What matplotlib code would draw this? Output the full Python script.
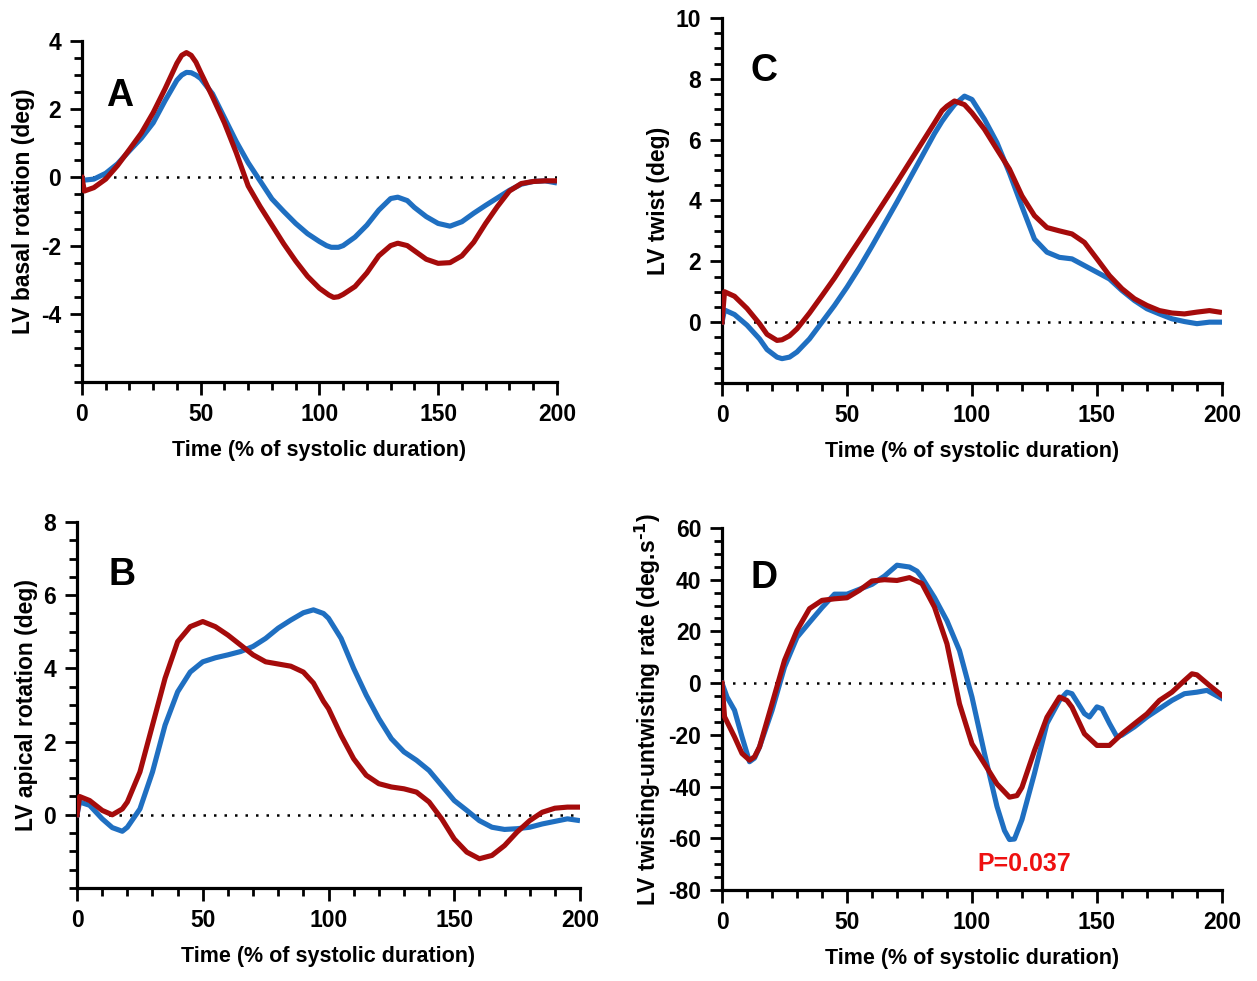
import matplotlib
matplotlib.use("Agg")
import matplotlib.pyplot as plt
from matplotlib.ticker import MultipleLocator

plt.rcParams['font.family'] = ['Liberation Sans', 'DejaVu Sans']
plt.rcParams['font.weight'] = 'bold'
plt.rcParams['axes.unicode_minus'] = False
plt.rcParams['mathtext.default'] = 'bf'

blue = '#1f6fc1'
red = '#a50b0b'

# panel A: LV basal rotation
t_a = [0, 1, 5, 10, 15, 20, 25, 30, 35, 40, 42, 44, 46, 48, 50, 55, 60, 65, 70, 75, 80, 85, 90,
       95, 100, 103, 105, 108, 110, 115, 120, 125, 130, 133, 137, 140, 145, 150, 155, 160, 165,
       170, 175, 180, 185, 190, 195, 199]
blue_a = [-0.08, -0.08, -0.05, 0.12, 0.4, 0.78, 1.15, 1.6, 2.25, 2.85, 3.0, 3.08, 3.07, 3.0, 2.9,
          2.45, 1.75, 1.05, 0.43, -0.1, -0.63, -1.0, -1.35, -1.65, -1.88, -2.0, -2.05, -2.05,
          -2.0, -1.75, -1.4, -0.96, -0.62, -0.58, -0.68, -0.88, -1.15, -1.35, -1.43, -1.3,
          -1.05, -0.82, -0.6, -0.38, -0.2, -0.12, -0.1, -0.15]
t_a_red = [0, 1, 5, 10, 15, 20, 25, 30, 35, 40, 42, 44, 46, 48, 50, 55, 60, 65, 70, 75, 80, 85,
           90, 95, 100, 104, 106, 108, 110, 115, 120, 125, 130, 133, 137, 140, 145, 150, 155,
           160, 165, 170, 175, 180, 185, 190, 195, 199]
red_a = [0.0, -0.4, -0.3, -0.05, 0.35, 0.82, 1.3, 1.9, 2.6, 3.35, 3.58, 3.66, 3.58, 3.38, 3.08,
         2.36, 1.6, 0.72, -0.25, -0.85, -1.4, -1.95, -2.45, -2.9, -3.25, -3.45, -3.52, -3.5,
         -3.43, -3.2, -2.8, -2.3, -2.0, -1.93, -2.0, -2.15, -2.4, -2.52, -2.5, -2.3, -1.9,
         -1.35, -0.85, -0.4, -0.18, -0.12, -0.1, -0.1]

# panel B: LV apical rotation
t_b = [0, 1, 5, 10, 14, 18, 20, 25, 30, 35, 40, 45, 50, 55, 60, 65, 70, 75, 80, 85, 90, 94, 98,
       100, 105, 110, 115, 120, 125, 130, 135, 140, 145, 150, 155, 160, 165, 170, 175, 180, 185,
       190, 195, 199]
blue_b = [0.0, 0.35, 0.26, -0.11, -0.35, -0.45, -0.34, 0.16, 1.17, 2.45, 3.36, 3.9, 4.18, 4.29,
          4.37, 4.46, 4.6, 4.82, 5.1, 5.32, 5.52, 5.6, 5.5, 5.37, 4.82, 4.0, 3.27, 2.63, 2.08,
          1.72, 1.49, 1.21, 0.8, 0.39, 0.12, -0.16, -0.34, -0.4, -0.38, -0.34, -0.25, -0.18,
          -0.11, -0.15]
red_b = [0.0, 0.5, 0.39, 0.12, 0.0, 0.16, 0.35, 1.17, 2.45, 3.73, 4.73, 5.14, 5.28, 5.14, 4.91,
         4.64, 4.37, 4.18, 4.12, 4.06, 3.9, 3.6, 3.1, 2.9, 2.17, 1.53, 1.08, 0.85, 0.76, 0.71,
         0.62, 0.35, -0.11, -0.66, -1.02, -1.2, -1.11, -0.84, -0.47, -0.16, 0.07, 0.18, 0.21,
         0.21]

# panel C: LV twist
t_c = [0, 1, 5, 10, 15, 18, 22, 24, 27, 30, 35, 40, 45, 50, 55, 60, 70, 80, 85, 88, 90, 93, 97,
       100, 105, 110, 115, 120, 125, 130, 135, 140, 145, 150, 155, 160, 165, 170, 175, 180, 185,
       190, 195, 199]
blue_c = [0.0, 0.4, 0.25, -0.1, -0.55, -0.9, -1.15, -1.2, -1.15, -0.98, -0.55, 0.0, 0.55, 1.15,
          1.8, 2.5, 3.95, 5.45, 6.2, 6.6, 6.83, 7.15, 7.43, 7.32, 6.67, 5.9, 4.9, 3.8, 2.73, 2.3,
          2.13, 2.08, 1.86, 1.64, 1.42, 1.04, 0.71, 0.44, 0.27, 0.11, 0.02, -0.05, 0.0, 0.0]
red_c = [0.0, 1.0, 0.85, 0.45, -0.05, -0.4, -0.6, -0.58, -0.45, -0.22, 0.3, 0.87, 1.45, 2.08,
         2.7, 3.33, 4.6, 5.9, 6.55, 6.95, 7.1, 7.27, 7.15, 6.88, 6.34, 5.68, 5.03, 4.15, 3.5,
         3.11, 3.0, 2.9, 2.62, 2.08, 1.53, 1.1, 0.77, 0.55, 0.38, 0.3, 0.27, 0.33, 0.38, 0.33]

# panel D: LV twisting-untwisting rate
t_d_blue = [0, 2, 5, 8, 11, 13, 15, 20, 25, 30, 35, 40, 45, 50, 55, 60, 65, 70, 75, 78, 80, 85,
            90, 95, 100, 105, 110, 113, 115, 117, 120, 125, 130, 135, 138, 140, 145, 147, 150,
            152, 155, 158, 160, 165, 170, 175, 180, 185, 190, 194, 200]
blue_d = [0, -5.4, -10.5, -20.8, -30.4, -29.0, -24.7, -10.6, 6.2, 17.7, 23.5, 29.2, 34.4, 34.4,
          36.3, 38.2, 41.4, 45.6, 44.9, 43.3, 40.8, 33.1, 24.1, 12.6, -5.4, -27.2, -47.7, -57.0,
          -60.5, -60.3, -52.8, -34.9, -15.6, -6.7, -3.5, -4.1, -11.8, -13.1, -9.2, -9.9, -15.6,
          -20.8, -20.1, -16.9, -13.1, -9.9, -6.7, -4.1, -3.5, -2.8, -6.0]
t_d_red = [0, 1, 5, 8, 11, 13, 15, 20, 25, 30, 35, 40, 45, 50, 55, 60, 65, 70, 75, 80, 85, 90,
           95, 100, 105, 110, 115, 118, 120, 125, 130, 135, 138, 140, 145, 150, 155, 160, 165,
           170, 175, 180, 185, 188, 190, 195, 200]
red_d = [0, -13, -20.8, -27.2, -29.8, -28.5, -24.7, -8.0, 8.8, 20.4, 28.8, 32.0, 32.6, 33.0, 35.9,
         39.5, 40.0, 39.7, 40.8, 38.5, 29.4, 15.2, -8.0, -23.5, -31.2, -39.0, -44.1, -43.5,
         -40.3, -26.1, -13.2, -5.4, -6.7, -9.3, -19.6, -24.1, -24.1, -19.6, -15.7, -11.9, -6.7,
         -3.5, 1.0, 3.6, 3.2, -0.9, -4.8]

fig = plt.figure(figsize=(12.57, 9.81), dpi=100)
ax_a = fig.add_axes([0.0652, 0.6106, 0.3778, 0.3476])
ax_c = fig.add_axes([0.5744, 0.6096, 0.3977, 0.3721])
ax_b = fig.add_axes([0.0613, 0.0948, 0.4001, 0.3731])
ax_d = fig.add_axes([0.5744, 0.0928, 0.3977, 0.3690])


def style(ax, ymin, ymax, major, minor, label, letter, lx, ly):
    ax.set_xlim(0, 200)
    ax.set_ylim(ymin, ymax)
    ax.xaxis.set_major_locator(MultipleLocator(50))
    ax.xaxis.set_minor_locator(MultipleLocator(10))
    ax.yaxis.set_major_locator(MultipleLocator(major))
    ax.yaxis.set_minor_locator(MultipleLocator(minor))
    for s in ['top', 'right']:
        ax.spines[s].set_visible(False)
    for s in ['left', 'bottom']:
        ax.spines[s].set_linewidth(2.3)
    ax.tick_params(which='major', length=9, width=2.0, labelsize=16.5, pad=6)
    ax.tick_params(which='minor', length=5.5, width=2.0)
    ax.set_xlabel('Time (% of systolic duration)', fontsize=15.5, fontweight='bold', labelpad=10)
    ax.set_ylabel(label, fontsize=16.5, fontweight='bold', labelpad=4)
    ax.axhline(0, color='black', linestyle=(0, (1, 3.2)), linewidth=1.8, zorder=1)
    ax.text(lx, ly, letter, transform=ax.transAxes, fontsize=27, fontweight='bold',
            ha='center', va='center')
    for lab in ax.get_xticklabels() + ax.get_yticklabels():
        lab.set_fontweight('bold')


lw = 3.7
ax_a.plot(t_a, blue_a, color=blue, linewidth=lw, solid_joinstyle='round', zorder=3)
ax_a.plot(t_a_red, red_a, color=red, linewidth=lw, solid_joinstyle='round', zorder=4)
style(ax_a, -6, 4, 2, 0.5, 'LV basal rotation (deg)', 'A', 0.08, 0.84)
ax_a.set_yticks([-4, -2, 0, 2, 4])

ax_b.plot(t_b, blue_b, color=blue, linewidth=lw, solid_joinstyle='round', zorder=3)
ax_b.plot(t_b, red_b, color=red, linewidth=lw, solid_joinstyle='round', zorder=4)
style(ax_b, -2, 8, 2, 0.5, 'LV apical rotation (deg)', 'B', 0.09, 0.855)
ax_b.set_yticks([0, 2, 4, 6, 8])

ax_c.plot(t_c, blue_c, color=blue, linewidth=lw, solid_joinstyle='round', zorder=3)
ax_c.plot(t_c, red_c, color=red, linewidth=lw, solid_joinstyle='round', zorder=4)
style(ax_c, -2, 10, 2, 0.5, 'LV twist (deg)', 'C', 0.084, 0.855)
ax_c.set_yticks([0, 2, 4, 6, 8, 10])

ax_d.plot(t_d_blue, blue_d, color=blue, linewidth=lw, solid_joinstyle='round', zorder=3)
ax_d.plot(t_d_red, red_d, color=red, linewidth=lw, solid_joinstyle='round', zorder=4)
style(ax_d, -80, 60, 20, 5, 'LV twisting-untwisting rate (deg.s$^{\\mathbf{\\text{-1}}}$)', 'D',
      0.084, 0.862)
ax_d.text(121, -70, 'P=0.037', color='#ee1111', fontsize=18, fontweight='bold',
          ha='center', va='center')

fig.savefig('out.png', dpi=100)
